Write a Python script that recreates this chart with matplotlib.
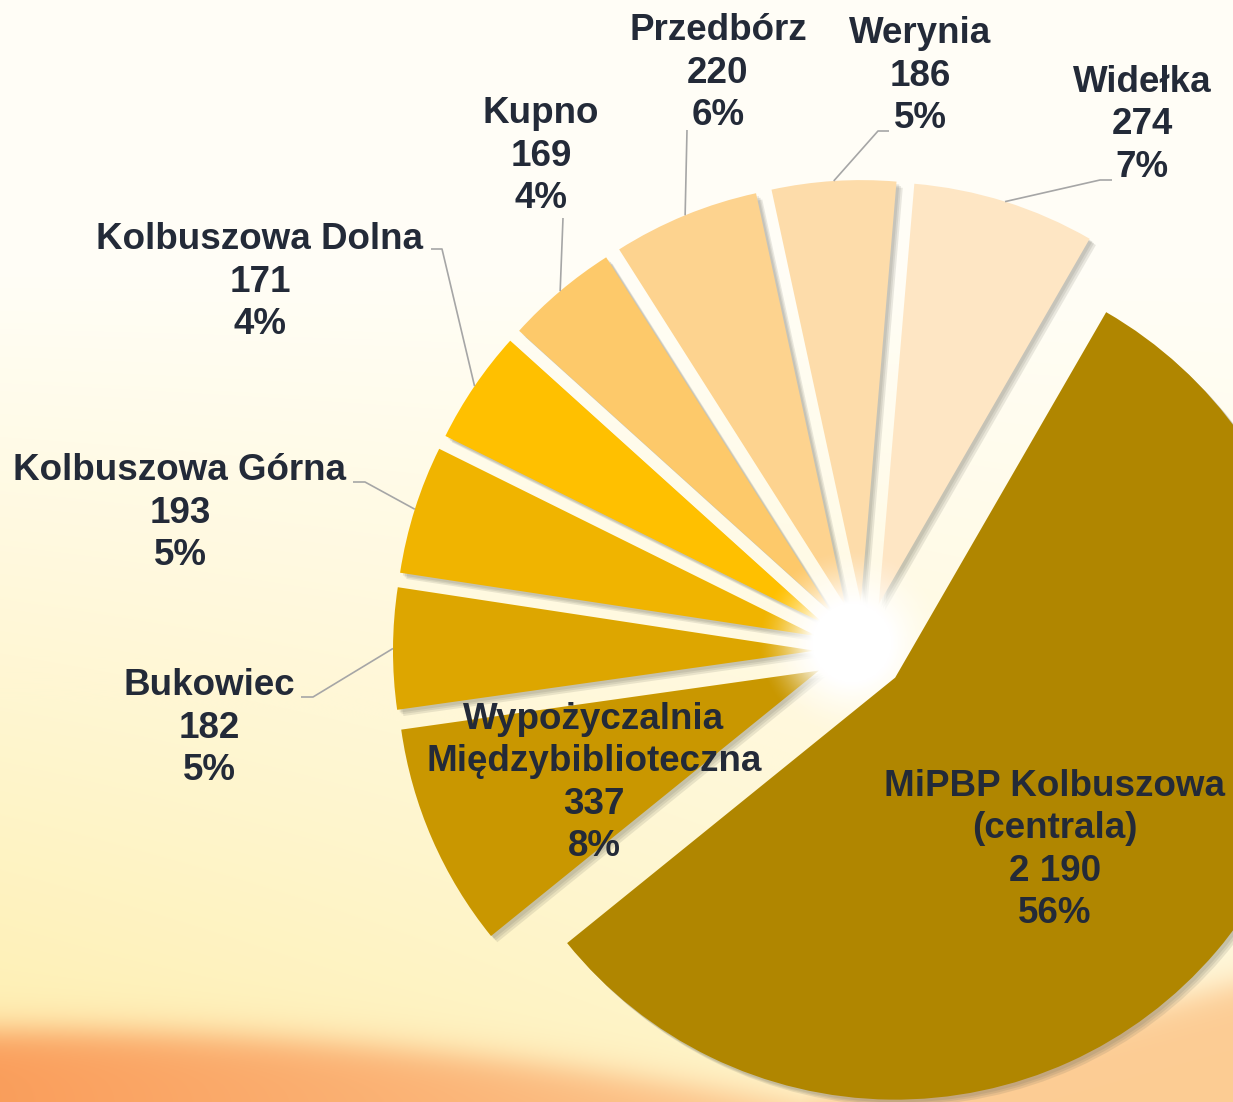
import numpy as np
import matplotlib
matplotlib.use('Agg')
import matplotlib.pyplot as plt
import matplotlib.patheffects as pe

# dane (kolejność przeciwnie do ruchu wskazówek zegara, od Widełki)
nazwy = ['Widełka', 'Werynia', 'Przedbórz', 'Kupno', 'Kolbuszowa Dolna',
         'Kolbuszowa Górna', 'Bukowiec', 'Wypożyczalnia\nMiędzybiblioteczna',
         'MiPBP Kolbuszowa\n(centrala)']
wartosci = [274, 186, 220, 169, 171, 193, 182, 337, 2190]
procenty = [7, 5, 6, 4, 4, 5, 5, 8, 56]
kolory = ['#FEE6C4', '#FDDCAA', '#FDD38F', '#FDC96A', '#FFC000',
          '#F0B400', '#DDA600', '#C99700', '#B08600']

W, H = 1233, 1102
CX, CY, R = 864, 651, 422   # środek i promień koła w pikselach


def px(x, y):
    # piksele obrazka -> współrzędne osi
    return (x - CX) / R, (CY - y) / R


# środki etykiet (piksele)
poz_etykiet = [(1142, 125), (920, 76), (718, 73), (541, 156), (260, 282),
               (180, 513), (209, 728), (594, 783), (1055, 850)]
# załamania linii odniesienia (piksele), None = bez linii
linie = [[(1100, 180), (1112, 180)], [(878, 131), (889, 131)], [(687, 130)],
         [(563, 218)], [(442, 249), (431, 249)], [(365, 482), (353, 482)],
         [(313, 697), (301, 697)], None, None]

fig = plt.figure(figsize=(W / 100, H / 100), dpi=100)
ax = fig.add_axes([0, 0, 1, 1])

x0, y1 = px(0, 0)
x1, y0 = px(W, H)

# tło - jasny krem przechodzący w żółć i pomarańczową falę na dole
yy, xx = np.mgrid[0:H, 0:W].astype(float)
krem = np.array([1.0, 0.996, 0.965])
zolty = np.array([1.0, 0.94, 0.70])
t = np.clip((yy / H - 0.25) / 0.7, 0, 1) * (0.45 + 0.55 * (1 - xx / W))
t = np.clip(t, 0, 1)[..., None]
tlo = krem * (1 - t) + zolty * t
yb = np.where(xx <= 800, 1030 + 75 * (xx / 800) ** 2, 1105 - (xx - 800) * 0.28)
m = 1 / (1 + np.exp(-(yy - yb) / 10))
pom1 = np.array([0.98, 0.62, 0.36])
pom2 = np.array([0.99, 0.80, 0.58])
s = np.clip(xx / 900, 0, 1)[..., None]
pom = pom1 * (1 - s) + pom2 * s
tlo = tlo * (1 - m[..., None]) + pom * m[..., None]
ax.imshow(tlo, extent=(x0, x1, y0, y1), zorder=0, interpolation='bilinear')

explode = [49 / R] * 8 + [41 / R]
wedges, _ = ax.pie(wartosci, colors=kolory, startangle=60, counterclock=True,
                   explode=explode, radius=1, wedgeprops=dict(linewidth=0))

# miękki cień w prawo-dół
cien = [pe.SimplePatchShadow(offset=(d, -d), shadow_rgbFace=(0.4, 0.4, 0.35), alpha=0.14)
        for d in (4.5, 3.2, 2.0)] + [pe.Normal()]
for i, w in enumerate(wedges):
    w.set_zorder(4 if i == len(wedges) - 1 else 2)
    w.set_path_effects(cien)

# biała poświata w środku
n = 300
gy, gx = np.mgrid[-1:1:n * 1j, -1:1:n * 1j]
r = np.hypot(gx, gy) * 110
alfa = np.clip((95 - r) / 55, 0, 1) ** 1.5
glow = np.zeros((n, n, 4))
glow[..., :3] = 1.0
glow[..., 3] = alfa
gcx, gcy = px(852, 643)
g = 110 / R
ax.imshow(glow, extent=(gcx - g, gcx + g, gcy - g, gcy + g), zorder=3,
          interpolation='bilinear')

# etykiety
for i, w in enumerate(wedges):
    wart = f'{wartosci[i]:,}'.replace(',', ' ')
    tekst = f'{nazwy[i]}\n{wart}\n{procenty[i]}%'
    tx, ty = px(*poz_etykiet[i])
    ax.text(tx, ty, tekst, ha='center', va='center', fontsize=26.5,
            fontweight='bold', family=['Liberation Sans', 'DejaVu Sans'],
            color='#232A38', linespacing=1.28, zorder=6)
    if linie[i] is not None:
        kat = np.deg2rad((w.theta1 + w.theta2) / 2)
        sx = w.center[0] + w.r * np.cos(kat)
        sy = w.center[1] + w.r * np.sin(kat)
        pts = [(sx, sy)] + [px(*p) for p in linie[i]]
        ax.plot([p[0] for p in pts], [p[1] for p in pts], color='#A6A6A6',
                lw=1.2, zorder=5, solid_capstyle='butt')

ax.set_xlim(x0, x1)
ax.set_ylim(y0, y1)
ax.set_aspect('auto')
ax.axis('off')

fig.savefig('out.png', dpi=100)
